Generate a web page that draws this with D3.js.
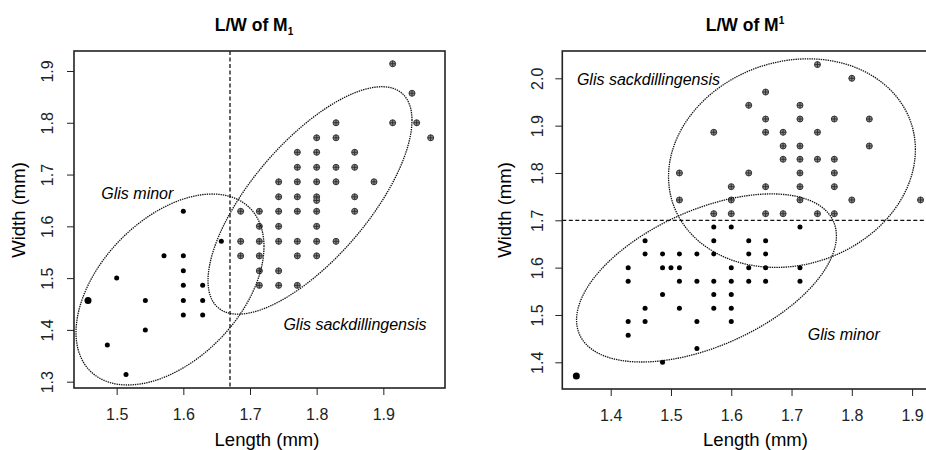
<!DOCTYPE html>
<html>
<head>
<meta charset="utf-8">
<script src="https://cdn.jsdelivr.net/npm/d3@7"></script>
<style>
    body { margin: 0; background: #fff; }
    svg { display: block; font-family: "Liberation Sans", Arial, sans-serif; }
</style>
</head>
<body>
<svg id="chart" width="926" height="450"></svg>
<script>
// data (mm)
const m1Minor = [
    [1.6, 1.629], [1.5, 1.5], [1.543, 1.457], [1.543, 1.4], [1.486, 1.371], [1.514, 1.314],
    [1.571, 1.543], [1.6, 1.543], [1.6, 1.514], [1.6, 1.486], [1.6, 1.457], [1.6, 1.429],
    [1.629, 1.486], [1.629, 1.457], [1.629, 1.429], [1.657, 1.571]
];
const m1MinorBig = [[1.457, 1.457]];
const m1Sack = [
    [1.914, 1.914], [1.943, 1.857], [1.829, 1.8], [1.914, 1.8], [1.95, 1.8],
    [1.8, 1.771], [1.829, 1.771], [1.971, 1.771],
    [1.771, 1.743], [1.8, 1.743], [1.857, 1.743],
    [1.771, 1.714], [1.8, 1.714], [1.829, 1.714], [1.857, 1.714],
    [1.743, 1.686], [1.771, 1.686], [1.8, 1.686], [1.829, 1.686], [1.886, 1.686],
    [1.743, 1.657], [1.771, 1.657], [1.8, 1.657], [1.857, 1.657], [1.8, 1.65],
    [1.686, 1.629], [1.714, 1.629], [1.743, 1.629], [1.771, 1.629], [1.8, 1.629], [1.857, 1.629],
    [1.714, 1.6], [1.743, 1.6], [1.8, 1.6],
    [1.686, 1.571], [1.714, 1.571], [1.743, 1.571], [1.771, 1.571], [1.8, 1.571], [1.829, 1.571],
    [1.686, 1.543], [1.714, 1.543], [1.771, 1.543], [1.8, 1.543],
    [1.714, 1.514], [1.743, 1.514],
    [1.714, 1.486], [1.743, 1.486], [1.771, 1.486]
];
const mUpSack = [
    [1.743, 2.029], [1.8, 2.0], [1.657, 1.971], [1.629, 1.943], [1.714, 1.943],
    [1.657, 1.914], [1.714, 1.914], [1.771, 1.914], [1.829, 1.914],
    [1.571, 1.886], [1.657, 1.886], [1.686, 1.886], [1.743, 1.886],
    [1.686, 1.857], [1.714, 1.857], [1.829, 1.857],
    [1.686, 1.829], [1.714, 1.829], [1.743, 1.829], [1.771, 1.829],
    [1.514, 1.8], [1.629, 1.8], [1.714, 1.8], [1.771, 1.8],
    [1.6, 1.771], [1.657, 1.771], [1.714, 1.771], [1.771, 1.771],
    [1.514, 1.743], [1.6, 1.743], [1.714, 1.743], [1.8, 1.743], [1.914, 1.743],
    [1.571, 1.714], [1.6, 1.714], [1.657, 1.714], [1.686, 1.714], [1.743, 1.714], [1.771, 1.714]
];
const mUpMinor = [
    [1.571, 1.686], [1.6, 1.686], [1.714, 1.686],
    [1.457, 1.657], [1.571, 1.657], [1.629, 1.657], [1.657, 1.657],
    [1.457, 1.629], [1.486, 1.629], [1.514, 1.629], [1.543, 1.629], [1.571, 1.629], [1.629, 1.629], [1.657, 1.629],
    [1.429, 1.6], [1.486, 1.6], [1.5, 1.6], [1.514, 1.6], [1.6, 1.6], [1.629, 1.6], [1.657, 1.6], [1.714, 1.6],
    [1.429, 1.571], [1.514, 1.571], [1.543, 1.571], [1.571, 1.571], [1.6, 1.571], [1.629, 1.571], [1.657, 1.571], [1.714, 1.571],
    [1.486, 1.543], [1.571, 1.543], [1.6, 1.543],
    [1.457, 1.514], [1.514, 1.514], [1.571, 1.514], [1.6, 1.514],
    [1.429, 1.486], [1.457, 1.486], [1.543, 1.486], [1.6, 1.486],
    [1.429, 1.457], [1.543, 1.429], [1.486, 1.4]
];
const mUpMinorBig = [[1.343, 1.371]];

// ellipses: centre x, centre y, half width, half height, correlation
const m1MinorEllipse = [1.58, 1.478, 0.141, 0.1844, 0.45];
const m1SackEllipse = [1.79, 1.65, 0.153, 0.2197, 0.705];
const mUpSackEllipse = [1.7007, 1.8208, 0.2048, 0.2204, 0.13];
const mUpMinorEllipse = [1.5589, 1.5782, 0.2156, 0.1776, 0.5];

const m1XTicks = [1.5, 1.6, 1.7, 1.8, 1.9];
const m1YTicks = [1.3, 1.4, 1.5, 1.6, 1.7, 1.8, 1.9];
const mUpXTicks = [1.4, 1.5, 1.6, 1.7, 1.8, 1.9];
const mUpYTicks = [1.4, 1.5, 1.6, 1.7, 1.8, 1.9, 2.0];

const svg = d3.select("#chart");
const fmt = d3.format(".1f");

function ellipsePath(e, x, y) {
    var d = Math.acos(e[4]);
    var pts = d3.range(0, 361, 3).map(function (a) {
        var t = a * Math.PI / 180;
        return [x(e[0] + e[2] * Math.cos(t)), y(e[1] + e[3] * Math.cos(t - d))];
    });
    return d3.line()(pts);
}

function drawPanel(p) {
    const x = d3.scaleLinear().domain(p.xDomain).range([p.left, p.right]);
    const y = d3.scaleLinear().domain(p.yDomain).range([p.bottom, p.top]);
    const g = svg.append("g");

    // title
    const title = g.append("text")
        .attr("x", p.titleX).attr("y", 31)
        .attr("text-anchor", "middle")
        .attr("font-weight", "bold").attr("font-size", 17.5)
        .text(p.title);
    title.append("tspan").attr("font-size", 10).attr("dy", p.subDy).text("1");

    // axes
    const xAxis = d3.axisBottom(x).tickValues(p.xTicks).tickFormat(fmt).tickSize(7).tickSizeOuter(0);
    const gx = g.append("g").attr("transform", `translate(0,${p.bottom})`).call(xAxis);
    gx.selectAll("text").attr("font-size", 16).attr("fill", "#222").attr("dy", null).attr("y", 32);
    const yAxis = d3.axisLeft(y).tickValues(p.yTicks).tickFormat(fmt).tickSize(7).tickSizeOuter(0);
    const gy = g.append("g").attr("transform", `translate(${p.left},0)`).call(yAxis);
    gy.selectAll("text").attr("font-size", 16).attr("fill", "#222")
        .attr("x", null).attr("dy", null).attr("y", null)
        .attr("text-anchor", "middle")
        .attr("transform", `translate(${p.yLabX - p.left},0) rotate(-90)`);
    g.selectAll(".domain").remove();
    g.selectAll(".tick line").attr("stroke", "#222");
    g.selectAll("g text").attr("font-family", null);

    g.append("text")
        .attr("x", p.xLabX).attr("y", 446)
        .attr("text-anchor", "middle").attr("font-size", 18.5)
        .text("Length (mm)");
    g.append("text")
        .attr("transform", `translate(${p.yTitleX},210) rotate(-90)`)
        .attr("text-anchor", "middle").attr("font-size", 18.5)
        .text("Width (mm)");

    // reference line
    if (p.vLine) {
        g.append("line")
            .attr("x1", x(p.vLine)).attr("x2", x(p.vLine))
            .attr("y1", p.top).attr("y2", p.bottom)
            .attr("stroke", "#111").attr("stroke-width", 1.3).attr("stroke-dasharray", "4,2.5");
    }
    if (p.hLine) {
        g.append("line")
            .attr("x1", p.left).attr("x2", p.right)
            .attr("y1", y(p.hLine)).attr("y2", y(p.hLine))
            .attr("stroke", "#111").attr("stroke-width", 1.3).attr("stroke-dasharray", "4,2.5");
    }

    // sackdillingensis: circle with cross
    const sack = g.selectAll(".sack").data(p.sack).enter().append("g")
        .attr("transform", d => `translate(${x(d[0])},${y(d[1])})`);
    sack.append("circle").attr("r", 3)
        .attr("fill", "#8a8a8a").attr("stroke", "#3a3a3a").attr("stroke-width", 1);
    sack.append("path").attr("d", "M-3,0H3M0,-3V3")
        .attr("stroke", "#2a2a2a").attr("stroke-width", 0.9);

    // minor: filled dots
    g.selectAll(".minor").data(p.minor).enter().append("circle")
        .attr("cx", d => x(d[0])).attr("cy", d => y(d[1])).attr("r", 2.5).attr("fill", "#000");
    g.selectAll(".minorBig").data(p.minorBig).enter().append("circle")
        .attr("cx", d => x(d[0])).attr("cy", d => y(d[1])).attr("r", 3.5).attr("fill", "#000");

    // ellipses
    p.ellipses.forEach(function (e) {
        g.append("path").attr("d", ellipsePath(e, x, y))
            .attr("fill", "none").attr("stroke", "#111")
            .attr("stroke-width", 1.3).attr("stroke-dasharray", "1.4,0.9");
    });

    // group labels
    p.labels.forEach(function (l) {
        g.append("text")
            .attr("x", x(l[1])).attr("y", y(l[2]))
            .attr("text-anchor", "middle").attr("font-style", "italic").attr("font-size", 16)
            .text(l[0]);
    });

    // box
    g.append("rect")
        .attr("x", p.left).attr("y", p.top)
        .attr("width", p.right - p.left).attr("height", p.bottom - p.top)
        .attr("fill", "none").attr("stroke", "#222").attr("stroke-width", 1.6);
}

drawPanel({
    title: "L/W of M", subDy: 4, titleX: 254,
    left: 74, right: 445, top: 51, bottom: 388,
    xDomain: [1.436, 1.9925], yDomain: [1.2878, 1.9386],
    xTicks: m1XTicks, yTicks: m1YTicks,
    yLabX: 53, yTitleX: 25, xLabX: 267,
    vLine: 1.67,
    sack: m1Sack, minor: m1Minor, minorBig: m1MinorBig,
    ellipses: [m1MinorEllipse, m1SackEllipse],
    labels: [["Glis minor", 1.531, 1.653], ["Glis sackdillingensis", 1.8575, 1.4]]
});

drawPanel({
    title: "L/W of M", subDy: -7, titleX: 745,
    left: 562.3, right: 934.4, top: 51, bottom: 389,
    xDomain: [1.3197, 1.937], yDomain: [1.3436, 2.0577],
    xTicks: mUpXTicks, yTicks: mUpYTicks,
    yLabX: 543, yTitleX: 511, xLabX: 755.5,
    hLine: 1.7,
    sack: mUpSack, minor: mUpMinor, minorBig: mUpMinorBig,
    ellipses: [mUpSackEllipse, mUpMinorEllipse],
    labels: [["Glis sackdillingensis", 1.4627, 1.985], ["Glis minor", 1.7867, 1.4471]]
});
</script>
</body>
</html>
